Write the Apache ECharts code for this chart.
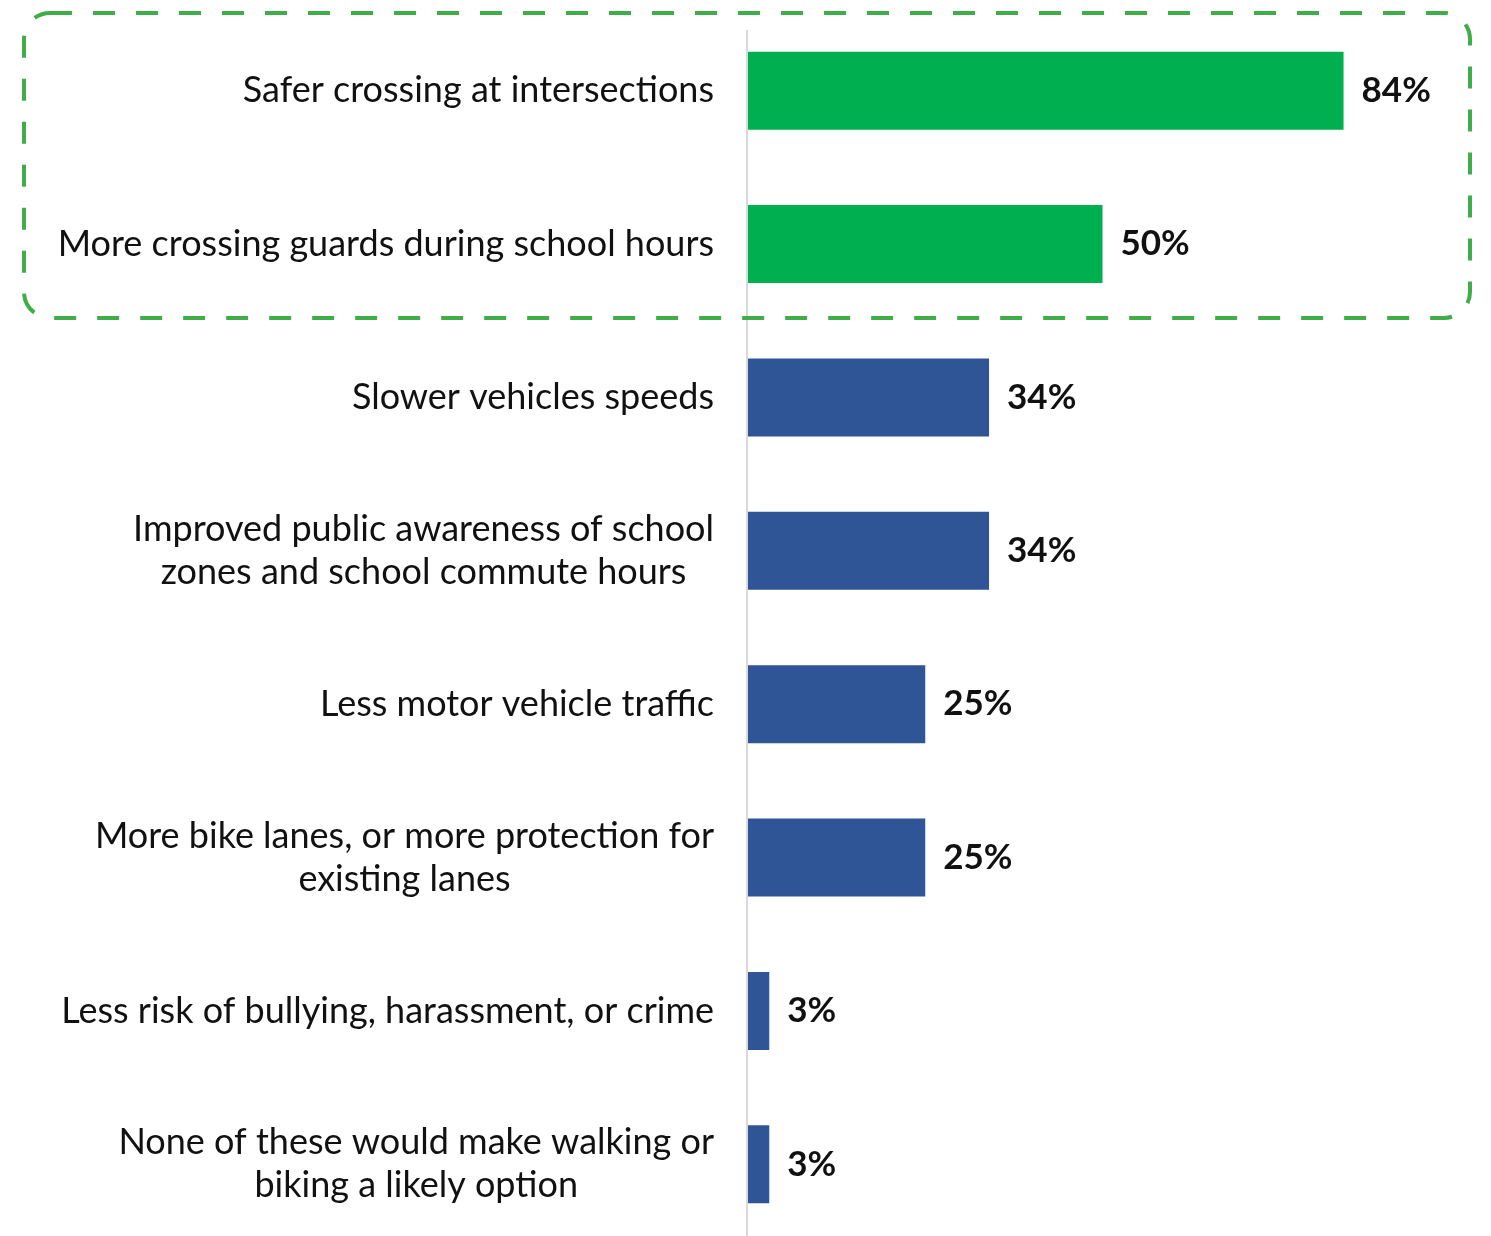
<!DOCTYPE html>
<html>
<head>
<meta charset="utf-8">
<title>Chart</title>
<script src="https://cdn.jsdelivr.net/npm/echarts@6/dist/echarts.min.js"></script>
<style>
  html, body { margin: 0; padding: 0; background: #fff; }
  #chart { width: 1491px; height: 1236px; }
</style>
</head>
<body>
<div id="chart"></div>
<script>
    // categories top to bottom
    var categories = [
        'Safer crossing at intersections',
        'More crossing guards during school hours',
        'Slower vehicles speeds',
        'Improved public awareness of school\nzones and school commute hours',
        'Less motor vehicle traffic',
        'More bike lanes, or more protection for\nexisting lanes',
        'Less risk of bullying, harassment, or crime',
        'None of these would make walking or\nbiking a likely option'
    ];
    var values = [84, 50, 34, 34, 25, 25, 3, 3];
    var highlighted = [true, true, false, false, false, false, false, false];

    var GREEN = '#00B050';
    var BLUE = '#2F5597';

    var chart = echarts.init(document.getElementById('chart'));

    var option = {
        animation: false,
        backgroundColor: '#fff',
        grid: {
            left: 748,
            width: 709,
            top: 14,
            height: 1227,
            containLabel: false,
            outerBoundsMode: 'none'
        },
        xAxis: {
            type: 'value',
            min: 0,
            max: 100,
            show: false
        },
        yAxis: {
            type: 'category',
            data: categories,
            inverse: true,
            axisLine: { show: false },
            axisTick: { show: false },
            axisLabel: {
                margin: 34,
                align: 'right',
                formatter: function (v) {
                    return v.split('\n').map(function (s) { return '{c|' + s + '}'; }).join('\n');
                },
                rich: {
                    c: {
                        align: 'center',
                        fontFamily: 'Lato',
                        fontSize: 36,
                        lineHeight: 43,
                        color: '#111'
                    }
                }
            }
        },
        series: [
            {
                type: 'bar',
                barWidth: 78,
                data: values.map(function (v, i) {
                    return {
                        value: v,
                        itemStyle: { color: highlighted[i] ? GREEN : BLUE }
                    };
                }),
                label: {
                    show: true,
                    position: 'right',
                    distance: 18,
                    formatter: '{c}%',
                    fontFamily: 'Lato',
                    fontWeight: 'bold',
                    fontSize: 35,
                    color: '#111'
                }
            }
        ],
        graphic: [
            {
                // vertical axis line
                type: 'line',
                shape: { x1: 747, y1: 30, x2: 747, y2: 1236 },
                style: { stroke: '#D9D9D9', lineWidth: 2 },
                z: 1
            },
            {
                // dashed highlight box
                type: 'rect',
                shape: { x: 24, y: 13, width: 1446, height: 305, r: 26 },
                style: {
                    fill: 'none',
                    stroke: '#3FAE49',
                    lineWidth: 4,
                    lineDash: [22, 21]
                },
                z: 10
            }
        ]
    };

    chart.setOption(option);
</script>
</body>
</html>
